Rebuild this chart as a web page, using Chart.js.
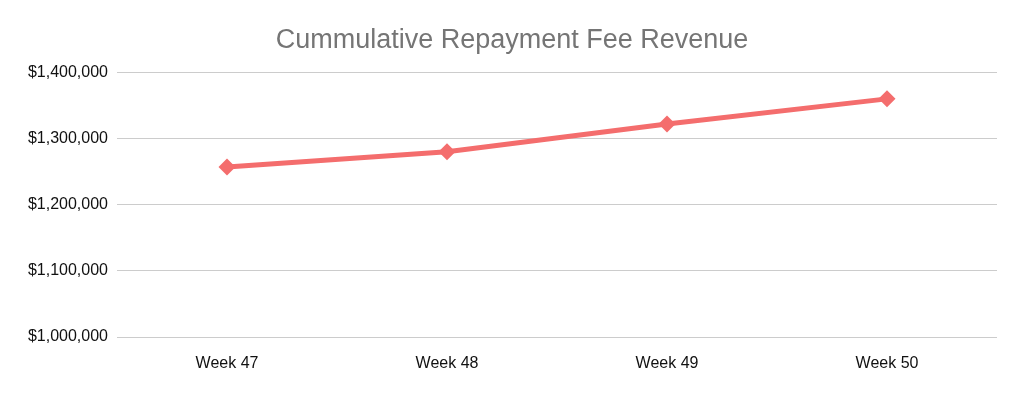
<!DOCTYPE html>
<html lang="en">

<head>
    <meta charset="UTF-8">
    <title>Cummulative Repayment Fee Revenue</title>
    <script src="https://cdn.jsdelivr.net/npm/chart.js"></script>
    <style>
        html,
        body {
            margin: 0;
            padding: 0;
            background: white;
        }

        .wrap {
            width: 1024px;
            height: 403px;
        }
    </style>
</head>

<body>
    <div class="wrap">
        <canvas id="revenueChart" width="1024" height="403"></canvas>
    </div>

    <script>
        // chart data
        const weeks = ["Week 47", "Week 48", "Week 49", "Week 50"];
        const revenue = [1257000, 1280000, 1322000, 1360000];
        const yTicks = [1000000, 1100000, 1200000, 1300000, 1400000];

        const ctx = document.getElementById('revenueChart').getContext('2d');
        const revenueChart = new Chart(ctx, {
            type: 'line',
            data: {
                labels: weeks,
                datasets: [{
                    label: 'Cummulative Repayment Fee Revenue',
                    data: revenue,
                    borderColor: '#f46d6d',
                    backgroundColor: '#f46d6d',
                    borderWidth: 5,
                    tension: 0,
                    pointStyle: 'rectRot',
                    pointRadius: 8.5,
                    pointBorderWidth: 0
                }]
            },
            options: {
                responsive: false,
                animation: false,
                layout: {
                    // same padding both sides so the title sits in the middle of the canvas
                    padding: { left: 27, right: 27, top: 0, bottom: 0 }
                },
                plugins: {
                    legend: { display: false },
                    tooltip: { enabled: false },
                    title: {
                        display: true,
                        text: 'Cummulative Repayment Fee Revenue',
                        color: '#757575',
                        font: { family: 'Arial, "Liberation Sans", sans-serif', size: 27, weight: 'normal' },
                        padding: { top: 24, bottom: 16 }
                    }
                },
                scales: {
                    x: {
                        offset: true,
                        grid: { display: false },
                        border: { display: false },
                        ticks: {
                            color: '#111',
                            padding: 9,
                            font: { family: 'Arial, "Liberation Sans", sans-serif', size: 16 }
                        },
                        afterFit: function (scale) { scale.height = 66; }
                    },
                    y: {
                        min: yTicks[0],
                        max: yTicks[yTicks.length - 1],
                        afterBuildTicks: function (scale) {
                            scale.ticks = yTicks.map(v => ({ value: v }));
                        },
                        grid: { color: '#cccccc', lineWidth: 1, drawTicks: false },
                        border: { display: false },
                        ticks: {
                            color: '#111',
                            padding: 9,
                            font: { family: 'Arial, "Liberation Sans", sans-serif', size: 16 },
                            callback: function (v) { return '$' + v.toLocaleString('en-US'); }
                        },
                        afterFit: function (scale) { scale.width = 90; }
                    }
                }
            }
        });
    </script>
</body>

</html>
